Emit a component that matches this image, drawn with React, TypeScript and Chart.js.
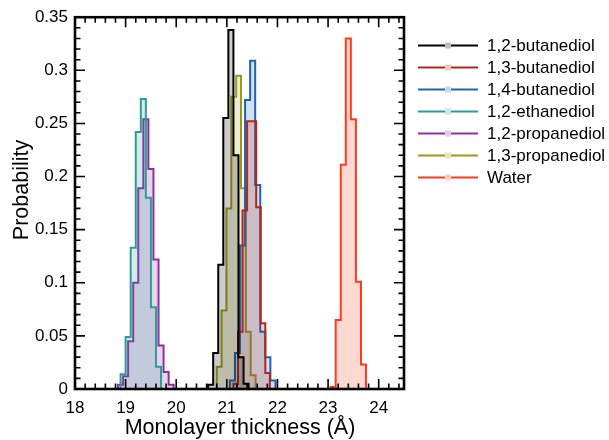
import React, { useEffect, useRef } from "react";
import { Chart, registerables } from "chart.js";

Chart.register(...registerables);

// ---------------- data ----------------
const seriesNames = [
  "1,2-butanediol",
  "1,3-butanediol",
  "1,4-butanediol",
  "1,2-ethanediol",
  "1,2-propanediol",
  "1,3-propanediol",
  "Water",
];
const seriesColors = ["#000000", "#b0261c", "#1f62ae", "#2f9c98", "#8d2ea2", "#9c9a1e", "#ff3b1c"];

// first bin edge and bin width of each histogram (Å)
const binStarts = [20.63, 21.13, 21.06, 18.9, 18.85, 20.8, 23.05];
const binWidths = [0.1, 0.09, 0.1, 0.1, 0.1, 0.096, 0.1];

const butanediol12 = [0.004, 0.034, 0.117, 0.255, 0.338, 0.22, 0.03, 0.005];
const butanediol13 = [0.005, 0.054, 0.168, 0.252, 0.252, 0.171, 0.062, 0.015];
const butanediol14 = [0.008, 0.034, 0.135, 0.272, 0.309, 0.192, 0.054, 0.03, 0.008];
const ethanediol12 = [0.014, 0.049, 0.133, 0.242, 0.273, 0.18, 0.077, 0.021];
const propanediol12 = [0.004, 0.012, 0.045, 0.1, 0.189, 0.254, 0.207, 0.122, 0.041, 0.016, 0.004];
const propanediol13 = [0.021, 0.074, 0.17, 0.275, 0.295, 0.189, 0.054, 0.013];
const water = [0.002, 0.065, 0.211, 0.33, 0.254, 0.101, 0.023];

const seriesValues = [butanediol12, butanediol13, butanediol14, ethanediol12, propanediol12, propanediol13, water];

const xTickValues = [18, 19, 20, 21, 22, 23, 24];
const xTickLabels = ["18", "19", "20", "21", "22", "23", "24"];
const yTickValues = [0, 0.05, 0.1, 0.15, 0.2, 0.25, 0.3, 0.35];
const yTickLabels = ["0", "0.05", "0.1", "0.15", "0.2", "0.25", "0.3", "0.35"];
const xMinorStep = 0.2;
const yMinorStep = 0.01;

const xTitle = "Monolayer thickness (Å)";
const yTitle = "Probability";

const FONT = "'Liberation Sans', Arial, Helvetica, sans-serif";

function hexToRgba(hex: string, a: number) {
  const n = parseInt(hex.slice(1), 16);
  return `rgba(${(n >> 16) & 255},${(n >> 8) & 255},${n & 255},${a})`;
}

function stepPoints(start: number, width: number, vals: number[]) {
  const pts: { x: number; y: number }[] = [{ x: start, y: 0 }];
  vals.forEach((v, i) => pts.push({ x: start + i * width, y: v }));
  pts.push({ x: start + vals.length * width, y: 0 });
  return pts;
}

const framePlugin = {
  id: "frameTicks",
  afterDatasetsDraw(chart: any) {
    const { ctx, chartArea, scales } = chart;
    const xs = scales.x;
    const ys = scales.y;
    const { left, right, top, bottom } = chartArea;
    ctx.save();
    ctx.strokeStyle = "#000";
    ctx.lineWidth = 1.6;
    ctx.beginPath();
    for (let v = xs.min; v <= xs.max + 1e-9; v += xMinorStep) {
      const r = Math.round(v * 100) / 100;
      const major = Math.abs(r - Math.round(r)) < 1e-6;
      const len = major ? 10 : 5.5;
      const px = xs.getPixelForValue(r);
      ctx.moveTo(px, bottom);
      ctx.lineTo(px, bottom - len);
      ctx.moveTo(px, top);
      ctx.lineTo(px, top + len);
    }
    for (let v = ys.min; v <= ys.max + 1e-9; v += yMinorStep) {
      const r = Math.round(v * 1000) / 1000;
      const major = Math.abs(r / 0.05 - Math.round(r / 0.05)) < 1e-6;
      const len = major ? 10 : 5.5;
      const py = ys.getPixelForValue(r);
      ctx.moveTo(left, py);
      ctx.lineTo(left + len, py);
      ctx.moveTo(right, py);
      ctx.lineTo(right - len, py);
    }
    ctx.stroke();
    ctx.lineWidth = 2.6;
    ctx.strokeRect(left, top, right - left, bottom - top);

    // axis titles
    ctx.fillStyle = "#000";
    ctx.font = `21.5px ${FONT}`;
    ctx.textAlign = "center";
    ctx.textBaseline = "middle";
    ctx.fillText(xTitle, 240, 428);
    ctx.translate(22, 190);
    ctx.rotate(-Math.PI / 2);
    ctx.fillText(yTitle, 0, 0);
    ctx.restore();

    // legend
    ctx.save();
    ctx.font = `17px ${FONT}`;
    ctx.textBaseline = "middle";
    ctx.textAlign = "left";
    seriesNames.forEach((name, i) => {
      const y = 45.5 + i * 22;
      ctx.strokeStyle = seriesColors[i];
      ctx.lineWidth = 2;
      ctx.beginPath();
      ctx.moveTo(418, y);
      ctx.lineTo(478, y);
      ctx.stroke();
      ctx.fillStyle = "#fff";
      ctx.fillRect(445, y - 3, 6, 6);
      ctx.fillStyle = hexToRgba(seriesColors[i], 0.25);
      ctx.fillRect(445, y - 3, 6, 6);
      ctx.fillStyle = "#000";
      ctx.fillText(name, 487, y + 1);
    });
    ctx.restore();
  },
};

export default function App() {
  const ref = useRef<HTMLCanvasElement | null>(null);
  useEffect(() => {
    document.body.style.margin = "0";
    const canvas = ref.current;
    if (!canvas) return;
    const datasets = seriesNames.map((name, i) => ({
      label: name,
      data: stepPoints(binStarts[i], binWidths[i], seriesValues[i]),
      borderColor: seriesColors[i],
      backgroundColor: hexToRgba(seriesColors[i], 0.2),
      borderWidth: 2,
      pointRadius: 0,
      stepped: "before" as const,
      fill: "origin",
      tension: 0,
    }));
    const chart = new Chart(canvas, {
      type: "line",
      data: { datasets },
      options: {
        animation: false,
        responsive: false,
        devicePixelRatio: 1,
        layout: { padding: { left: 0, right: 205, top: 17, bottom: 0 } },
        plugins: { legend: { display: false }, tooltip: { enabled: false } },
        scales: {
          x: {
            type: "linear",
            min: 18,
            max: 24.5,
            afterBuildTicks: (s: any) => {
              s.ticks = xTickValues.map((v) => ({ value: v }));
            },
            afterFit: (s: any) => {
              s.height = 51;
            },
            ticks: {
              color: "#000",
              font: { family: FONT, size: 17 },
              padding: 9,
              maxRotation: 0,
              autoSkip: false,
              callback: (v: any) => {
                const k = xTickValues.indexOf(Number(v));
                return k >= 0 ? xTickLabels[k] : "";
              },
            },
            grid: { display: false, drawTicks: false },
            border: { display: false },
          },
          y: {
            type: "linear",
            min: 0,
            max: 0.35,
            afterBuildTicks: (s: any) => {
              s.ticks = yTickValues.map((v) => ({ value: v }));
            },
            afterFit: (s: any) => {
              s.width = 75;
            },
            ticks: {
              color: "#000",
              font: { family: FONT, size: 17 },
              padding: 7,
              autoSkip: false,
              callback: (v: any) => {
                const k = yTickValues.findIndex((t) => Math.abs(t - Number(v)) < 1e-9);
                return k >= 0 ? yTickLabels[k] : "";
              },
            },
            grid: { display: false, drawTicks: false },
            border: { display: false },
          },
        },
      },
      plugins: [framePlugin],
    });
    return () => chart.destroy();
  }, []);
  return <canvas ref={ref} width={609} height={440} style={{ display: "block" }} />;
}
